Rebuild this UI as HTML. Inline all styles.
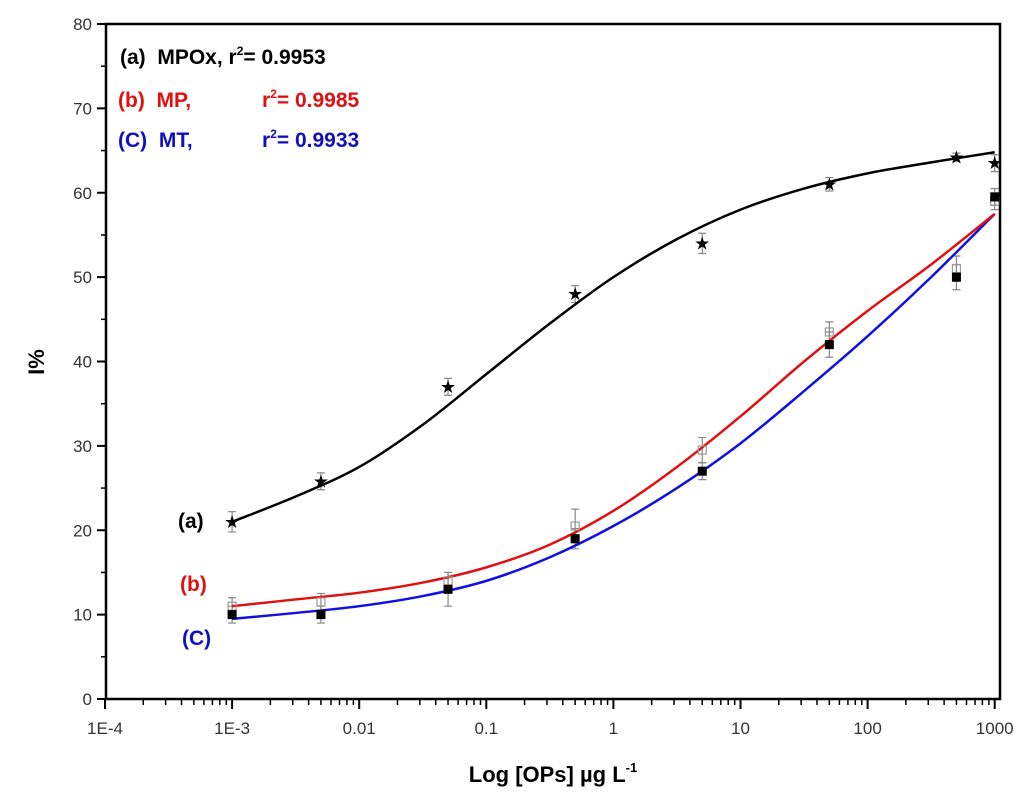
<!DOCTYPE html>
<html><head><meta charset="utf-8"><style>
body{margin:0;background:#fff;}
svg text{font-family:"Liberation Sans",Arial,sans-serif;}
</style></head><body>
<svg id="chart" width="1024" height="802" xmlns="http://www.w3.org/2000/svg"></svg>
<script>
const logX = [-3, -2.301, -1.301, -0.301, 0.699, 1.699, 2.699, 3];
const seriesA = [21, 25.8, 37, 48, 54, 61, 64.2, 63.5];
const seriesB = [11, 11.5, 14, 20.5, 29.5, 43.5, 51, 59];
const seriesC = [10, 10, 13, 19, 27, 42, 50, 59.5];
const errA = [1.2, 1, 1, 1, 1.2, 0.8, 0.5, 1];
const errB = [1, 1, 1, 2, 1.5, 1.2, 1.5, 1];
const errC = [1, 1, 2, 1.2, 1, 1.5, 1.5, 1];
const fitX = [-3, -2.5, -2, -1.5, -1, -0.5, 0, 0.5, 1, 1.5, 2, 2.5, 3];
const fitA = [21, 24, 27.5, 32.5, 38.5, 44.5, 50, 54.5, 58, 60.5, 62.3, 63.6, 64.8];
const fitB = [11, 11.8, 12.6, 13.8, 15.6, 18.3, 22.3, 27.5, 33.5, 40, 46, 51.5, 57.5];
const fitC = [9.5, 10.2, 11, 12.2, 14, 16.8, 20.5, 25, 30.3, 36.5, 43, 50, 57.5];
const xTicks = ["1E-4","1E-3","0.01","0.1","1","10","100","1000"];
const yTicks = [0,10,20,30,40,50,60,70,80];

const svg = document.getElementById('chart');
const NS = 'http://www.w3.org/2000/svg';
const L=106, R=1000, T=24, B=699;
const xs = v => 105 + (v + 4) * 127.1;
const ys = v => B - v * (B - T) / 80;
function mk(tag, at, parent){const e=document.createElementNS(NS,tag);for(const k in at)e.setAttribute(k,at[k]);(parent||svg).appendChild(e);return e;}

const frame = mk('rect',{x:L,y:T,width:R-L,height:B-T,fill:'none',stroke:'#000','stroke-width':2.5});



yTicks.forEach(v=>{
  const y=ys(v);
  const t=mk('line',{x1:L-9,x2:L,y1:y,y2:y,stroke:'#000','stroke-width':2});
  
  
  if(v<80){const m=mk('line',{x1:L-5,x2:L,y1:ys(v+5),y2:ys(v+5),stroke:'#000','stroke-width':1.5});
    
    }
  const tx=mk('text',{x:L-14,y:y+6,'text-anchor':'end','font-size':17,fill:'#333'});
  tx.textContent=v;
  
  
});
xTicks.forEach((lab,i)=>{
  const d=i-4, x=xs(d);
  const t=mk('line',{x1:x,x2:x,y1:B,y2:B+10,stroke:'#000','stroke-width':2});
  
  
  if(i<7){for(let k=2;k<10;k++){const mx=xs(d+Math.log10(k));
    const m=mk('line',{x1:mx,x2:mx,y1:B,y2:B+6,stroke:'#000','stroke-width':1.5});
    
    }}
  const tx=mk('text',{x:x,y:B+35,'text-anchor':'middle','font-size':17,fill:'#333'});
  tx.textContent=lab;
  
  
});

function smooth(xa,ya){
  const p=xa.map((v,i)=>[xs(v),ys(ya[i])]);
  let d='M'+p[0][0]+','+p[0][1];
  for(let i=0;i<p.length-1;i++){
    const p0=p[i-1]||p[i],p1=p[i],p2=p[i+1],p3=p[i+2]||p[i+1];
    d+=` C${p1[0]+(p2[0]-p0[0])/6},${p1[1]+(p2[1]-p0[1])/6} ${p2[0]-(p3[0]-p1[0])/6},${p2[1]-(p3[1]-p1[1])/6} ${p2[0]},${p2[1]}`;
  }
  return d;
}
function errs(ya,ea,name){
  ya.forEach((v,i)=>{const x=xs(logX[i]);
    const e=mk('path',{d:`M${x},${ys(v+ea[i])}V${ys(v-ea[i])}M${x-4},${ys(v+ea[i])}h8M${x-4},${ys(v-ea[i])}h8`,stroke:'#888','stroke-width':1.2,fill:'none'});
    
    });
}
errs(seriesA,errA,'error-bar-a');errs(seriesB,errB,'error-bar-b');errs(seriesC,errC,'error-bar-c');

const ca=mk('path',{d:smooth(fitX,fitA),stroke:'#000','stroke-width':2.5,fill:'none'});


const cc=mk('path',{d:smooth(fitX,fitC),stroke:'#1010e0','stroke-width':2.5,fill:'none'});


const cb=mk('path',{d:smooth(fitX,fitB),stroke:'#e01010','stroke-width':2.5,fill:'none'});



seriesB.forEach((v,i)=>{
  const r=mk('rect',{x:xs(logX[i])-4,y:ys(v)-4,width:8,height:8,fill:'none',stroke:'#999','stroke-width':1.2});
  
  
});
seriesC.forEach((v,i)=>{
  const r=mk('rect',{x:xs(logX[i])-4.5,y:ys(v)-4.5,width:9,height:9,fill:'#000'});
  
  
});
seriesA.forEach((v,i)=>{
  const s=mk('text',{x:xs(logX[i]),y:ys(v)+6,'text-anchor':'middle','font-size':18,fill:'#000'});
  s.textContent='★';
  
  
});
</script>
<svg style="position:absolute;left:0;top:0" width="1024" height="802">
<g font-family="Liberation Sans, Arial, sans-serif" font-weight="bold" font-size="21">
<text x="120" y="64" fill="#000">(a)&#160;&#160;MPOx, r<tspan font-size="12" dy="-9">2</tspan><tspan dy="9">= 0.9953</tspan></text>
<text x="118" y="107" fill="#e01010">(b)&#160;&#160;MP,</text>
<text x="262" y="107" fill="#e01010">r<tspan font-size="12" dy="-9">2</tspan><tspan dy="9">= 0.9985</tspan></text>
<text x="118" y="147" fill="#1010c0">(C)&#160;&#160;MT,</text>
<text x="262" y="147" fill="#1010c0">r<tspan font-size="12" dy="-9">2</tspan><tspan dy="9">= 0.9933</tspan></text>
<text x="178" y="528" fill="#000">(a)</text>
<text x="180" y="591" fill="#e01010">(b)</text>
<text x="182" y="645" fill="#1010c0">(C)</text>
<text x="553" y="782" text-anchor="middle" fill="#000" font-size="22">Log [OPs] µg L<tspan font-size="13" dy="-10">-1</tspan></text>
<text transform="translate(44,362) rotate(-90)" text-anchor="middle" fill="#000" font-size="22">I%</text>
</g></svg>
</body></html>
